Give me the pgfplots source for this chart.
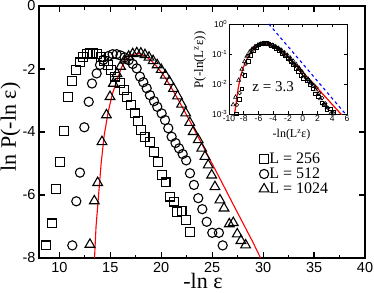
\documentclass[border=0pt]{standalone}
\usepackage{fontspec}
\setmainfont{Liberation Serif}
\setsansfont{Liberation Sans}
\usepackage{pgfplots}
\usepackage{pgfplotstable}
\pgfplotsset{compat=1.18}

% columns: -ln eps, ln P
\pgfplotstableread{
x y
8.69 -7.60
9.25 -6.90
9.67 -5.80
10.06 -4.96
10.45 -3.96
10.88 -2.88
11.27 -2.38
11.63 -2.03
12.02 -1.79
12.35 -1.61
12.68 -1.53
13.00 -1.50
13.33 -1.50
13.72 -1.53
14.05 -1.62
14.40 -1.75
14.75 -1.88
15.10 -2.03
15.49 -2.24
15.92 -2.45
16.34 -2.67
16.67 -2.88
17.00 -3.14
17.39 -3.41
17.72 -3.65
18.04 -3.94
18.37 -4.15
18.89 -4.32
19.28 -4.64
19.65 -4.96
20.04 -5.37
20.43 -5.60
20.86 -6.05
21.25 -6.21
21.57 -6.53
22.00 -6.51
22.43 -6.79
22.82 -7.18
}\Lsmall

\pgfplotstableread{
x y
11.27 -7.60
11.66 -6.20
12.02 -5.29
12.45 -3.85
12.88 -3.04
13.20 -2.46
13.66 -2.14
13.99 -1.87
14.31 -1.71
14.80 -1.59
15.23 -1.53
15.62 -1.53
16.00 -1.57
16.40 -1.63
16.80 -1.72
17.20 -1.84
17.59 -1.98
17.91 -2.24
18.24 -2.42
18.57 -2.61
18.89 -2.83
19.29 -3.02
19.61 -3.20
20.04 -3.41
20.37 -3.62
20.69 -3.88
21.02 -4.15
21.40 -4.35
21.75 -4.52
22.10 -4.70
22.45 -4.90
22.82 -5.31
23.21 -5.68
23.63 -6.10
24.03 -6.45
24.46 -6.85
25.01 -7.20
25.66 -7.20
26.03 -7.60
}\Lmid

\pgfplotstableread{
x y
13.00 -7.57
13.43 -6.19
13.76 -5.61
14.18 -4.31
14.62 -3.46
14.97 -2.88
15.30 -2.46
15.65 -2.15
16.00 -1.92
16.40 -1.72
16.80 -1.60
17.20 -1.52
17.60 -1.49
18.00 -1.50
18.40 -1.55
18.80 -1.63
19.20 -1.74
19.60 -1.87
20.00 -2.02
20.40 -2.20
20.80 -2.40
21.20 -2.62
21.60 -2.86
22.00 -3.12
22.40 -3.40
22.80 -3.70
23.14 -3.99
23.63 -4.25
23.97 -4.52
24.29 -4.78
24.61 -5.05
24.95 -5.37
25.27 -5.74
25.76 -6.16
26.16 -6.42
26.68 -6.92
27.07 -6.88
27.46 -7.24
27.82 -7.45
28.28 -7.59
}\Lbig

\pgfplotstableread{
x y
13.45 -8.00
13.60 -7.00
13.85 -6.00
14.10 -5.00
14.40 -4.10
14.80 -3.35
15.20 -2.80
15.60 -2.40
16.10 -1.95
16.50 -1.72
17.00 -1.57
17.50 -1.51
18.00 -1.52
18.50 -1.60
19.00 -1.73
19.50 -1.90
20.00 -2.10
20.50 -2.33
21.00 -2.60
21.50 -2.88
22.00 -3.17
23.00 -3.77
24.00 -4.39
25.00 -5.01
26.00 -5.63
27.00 -6.26
28.00 -6.88
29.00 -7.50
29.75 -8.00
}\fitcurve

\begin{document}
\begin{tikzpicture}
\begin{axis}[
    scale only axis, width=326pt, height=252pt,
    xmin=8, xmax=40, ymin=-8, ymax=0,
    xtick={10,15,...,40}, ytick={-8,-6,...,0},
    minor x tick num=1,
    tick align=inside,
    major tick length=6pt, minor tick length=3.5pt,
    every tick/.style={black, line width=1.2pt},
    axis line style={line width=1.5pt},
    tick label style={font=\sffamily\fontsize{14.5}{14.5}\selectfont},
    xticklabel style={inner sep=0.5pt, yshift=-4pt},
    /pgf/number format/assume math mode=true,
    xlabel={-ln ε}, ylabel={ln P(-ln ε)},
    label style={font=\fontsize{22}{22}\selectfont, inner sep=0pt},
    xlabel style={at={(axis description cs:0.503,0)}, anchor=base, yshift=-30.5pt},
    ylabel style={at={(axis description cs:0,0.52)}, anchor=base, yshift=23pt},
    legend style={at={(axis description cs:0.675,0.42)}, anchor=north west,
        draw=none, fill=none, font=\fontsize{16}{16}\selectfont,
        row sep=2pt, inner sep=0pt, nodes={inner sep=0.5pt}},
    legend cell align=left,
    legend image code/.code={\draw[#1] plot coordinates {(4pt,0pt)};},
    every axis plot/.append style={line width=1.1pt},
]
\addplot[black, only marks, mark=square, mark size=4.4pt] table {\Lsmall};
\addplot[black, only marks, mark=o, mark size=4.6pt] table {\Lmid};
\addplot[black, only marks, mark=triangle, mark size=5.6pt] table {\Lbig};
\addplot[red, line width=1.1pt, forget plot] table {\fitcurve};
\legend{L = 256, L = 512, L = 1024}
\end{axis}

\begin{axis}[
    at={(190pt,144pt)}, anchor=south west,
    scale only axis, width=118pt, height=90pt,
    ymode=log, xmin=-10, xmax=6, ymin=1e-3, ymax=1,
    xtick={-10,-8,...,6}, ytick={1e-3,1e-2,1e-1,1},
    yticklabels={10\textsuperscript{-3},10\textsuperscript{-2},10\textsuperscript{-1},10\textsuperscript{0}},
    yminorticks=false,
    axis background/.style={fill=white},
    tick align=inside,
    major tick length=3pt,
    every tick/.style={black, line width=0.8pt},
    axis line style={line width=0.9pt},
    tick label style={font=\sffamily\fontsize{8.5}{8.5}\selectfont},
    xticklabel style={inner sep=0.5pt, yshift=-1pt},
    yticklabel style={inner sep=0.5pt, xshift=-1pt},
    /pgf/number format/assume math mode=true,
    xlabel={-ln(L\textsuperscript{z}ε)}, ylabel={P(-ln(L\textsuperscript{z}ε))},
    label style={inner sep=0pt},
    xlabel style={font=\fontsize{12}{12}\selectfont, at={(axis description cs:0.53,0)}, anchor=base, yshift=-23.5pt},
    ylabel style={font=\fontsize{13}{13}\selectfont, at={(axis description cs:0,0.6)}, anchor=base, yshift=26pt},
]
\addplot[black, only marks, mark=square, mark size=1.8pt, line width=0.6pt]
    table[x expr=\thisrow{x}-18.30, y expr=exp(\thisrow{y})] {\Lsmall};
\addplot[black, only marks, mark=o, mark size=1.9pt, line width=0.6pt]
    table[x expr=\thisrow{x}-20.59, y expr=exp(\thisrow{y})] {\Lmid};
\addplot[black, only marks, mark=triangle, mark size=2.3pt, line width=0.6pt]
    table[x expr=\thisrow{x}-22.87, y expr=exp(\thisrow{y})] {\Lbig};
\addplot[red, line width=1.2pt]
    table[x expr=\thisrow{x}-22.87, y expr=exp(\thisrow{y})] {\fitcurve};
\addplot[blue, dashed, line width=1.1pt] coordinates {(-4.6,1) (5.8,0.001)};
\node[anchor=west, font=\fontsize{15}{15}\selectfont] at (axis cs:-7.3,0.0081) {z = 3.3};
\end{axis}
\pgfresetboundingbox
\useasboundingbox (-39pt,-34pt) rectangle (335pt,258pt);
\end{tikzpicture}
\end{document}
